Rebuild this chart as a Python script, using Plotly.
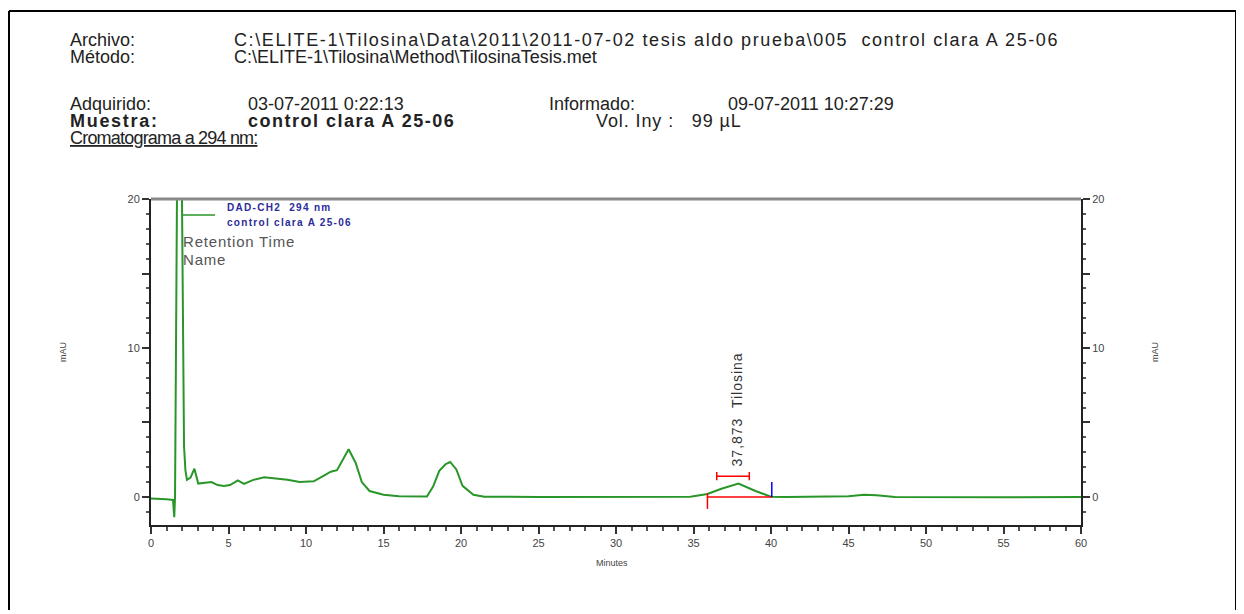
import plotly.graph_objects as go

# ---- data ----
time_min = [0.0, 0.5, 1.0, 1.42, 1.50, 1.55, 1.68, 1.80, 1.92, 2.00, 2.13, 2.22, 2.32,
            2.55, 2.80, 3.05, 3.40, 3.90, 4.30, 4.70, 5.10, 5.60, 6.00, 6.60, 7.30,
            8.00, 8.80, 9.60, 10.50, 11.10, 11.60, 12.00, 12.40, 12.75, 13.20, 13.60,
            14.10, 15.00, 16.00, 17.80, 18.20, 18.60, 19.00, 19.30, 19.70, 20.10,
            20.80, 21.50, 25.0, 30.0, 34.8, 35.9, 36.8, 37.9, 39.0, 40.0, 41.0,
            45.0, 46.0, 46.8, 48.0, 55.0, 60.0]
mau = [-0.1, -0.1, -0.15, -0.2, -1.35, 0.0, 20.0, 40.0, 30.0, 20.0, 3.4, 1.8, 1.15,
       1.3, 1.9, 0.9, 0.95, 1.0, 0.8, 0.74, 0.8, 1.12, 0.88, 1.15, 1.33,
       1.27, 1.15, 1.0, 1.05, 1.4, 1.7, 1.8, 2.6, 3.2, 2.3, 1.0,
       0.4, 0.15, 0.05, 0.03, 0.7, 1.75, 2.2, 2.35, 1.85, 0.75,
       0.15, 0.02, 0.0, 0.0, 0.02, 0.2, 0.55, 0.9, 0.4, 0.02, 0.0,
       0.05, 0.15, 0.12, 0.0, -0.02, 0.0]

peak_name = "Tilosina"
peak_rt = 37.873
peak_start = 35.9
peak_end = 40.05
peak_width_bar = [36.5, 38.6]
peak_bar_level = 1.4
x_ticks = [0, 5, 10, 15, 20, 25, 30, 35, 40, 45, 50, 55, 60]
y_ticks = [0, 5, 10, 15, 20]
y_ticklabels = ["0", "", "10", "", "20"]

# ---- layout helpers (page pixel -> paper); the page body adds an 8px offset ----
OFF = 8
L, R, T, B = 151, 1081, 199, 525
W, H = 1232, 602
def px(x):
    return (x - L) / (R - L)
def py(y):
    return (B - y) / (B - T)

GREEN = "rgb(40,150,40)"
FONT = "Liberation Sans, Arial, sans-serif"
TXT = "#222222"

fig = go.Figure()
fig.add_trace(go.Scatter(x=time_min, y=mau, mode="lines",
                         line=dict(color=GREEN, width=2), showlegend=False,
                         hoverinfo="x+y"))
fig.add_trace(go.Scatter(x=[0], y=[0], yaxis="y2", mode="markers",
                         marker=dict(opacity=0), showlegend=False, hoverinfo="skip"))

axis_common = dict(showgrid=False, zeroline=False, showline=True, linecolor="#222",
                   linewidth=2, ticks="outside", ticklen=7, tickwidth=1.5,
                   tickcolor="#333", tickfont=dict(family=FONT, size=11, color="#444"))

fig.update_layout(
    width=W, height=H,
    margin=dict(l=L - OFF, r=(W + OFF) - R, t=T - OFF, b=(H + OFF) - B, pad=0),
    paper_bgcolor="white", plot_bgcolor="white",
    xaxis=dict(range=[0, 60], tickvals=x_ticks,
               minor=dict(dtick=1, ticks="outside", ticklen=4, tickcolor="#555"),
               **axis_common),
    yaxis=dict(range=[-1.88, 20], tickvals=y_ticks, ticktext=y_ticklabels,
               minor=dict(dtick=1, ticks="outside", ticklen=3, tickcolor="#555"),
               **axis_common),
    yaxis2=dict(range=[-1.88, 20], tickvals=y_ticks, ticktext=y_ticklabels,
                overlaying="y", side="right",
                minor=dict(dtick=1, ticks="outside", ticklen=3, tickcolor="#555"),
                **axis_common),
)

shapes = []
for (x0, y0, x1, y1) in [(9, 11, 1236, 11), (9, 11, 9, 640), (1236, 11, 1236, 640)]:
    shapes.append(dict(type="line", xref="paper", yref="paper",
                       x0=px(x0), y0=py(y0), x1=px(x1), y1=py(y1),
                       line=dict(color="black", width=2)))
shapes.append(dict(type="line", xref="paper", yref="paper", x0=0, x1=1, y0=1, y1=1,
                   line=dict(color="#8a8a8a", width=3)))
shapes.append(dict(type="line", xref="paper", yref="paper",
                   x0=px(182), x1=px(215), y0=py(215), y1=py(215),
                   line=dict(color=GREEN, width=1.5)))
shapes.append(dict(type="line", xref="x", yref="y", x0=peak_start, x1=peak_end, y0=0, y1=0,
                   line=dict(color="red", width=1.5)))
shapes.append(dict(type="line", xref="x", yref="y", x0=peak_start, x1=peak_start, y0=-0.8, y1=0.25,
                   line=dict(color="red", width=1.5)))
shapes.append(dict(type="line", xref="x", yref="y", x0=peak_end, x1=peak_end, y0=0, y1=1.0,
                   line=dict(color="blue", width=1.5)))
shapes.append(dict(type="line", xref="x", yref="y", x0=peak_width_bar[0], x1=peak_width_bar[1],
                   y0=peak_bar_level, y1=peak_bar_level, line=dict(color="red", width=1.5)))
for xb in peak_width_bar:
    shapes.append(dict(type="line", xref="x", yref="y", x0=xb, x1=xb,
                       y0=peak_bar_level - 0.28, y1=peak_bar_level + 0.28,
                       line=dict(color="red", width=1.5)))
fig.update_layout(shapes=shapes)

ann = []
def text(x, y, s, size=18, color=TXT, anchor="left", angle=0, yanchor="middle", family=FONT):
    ann.append(dict(x=px(x), y=py(y), xref="paper", yref="paper", text=s,
                    showarrow=False, xanchor=anchor, yanchor=yanchor, textangle=angle,
                    font=dict(family=family, size=size, color=color)))

def spaced(s, ls):
    return f'<span style="letter-spacing:{ls}px">{s}</span>'

text(68, 40, "Archivo:")
text(68, 57, "Método:")
text(232, 40, spaced(r"C:\ELITE-1\Tilosina\Data\2011\2011-07-02 tesis aldo prueba\005  control clara A 25-06", 1.6))
text(232, 57, r"C:\ELITE-1\Tilosina\Method\TilosinaTesis.met")
text(68, 104, "Adquirido:")
text(246, 104, "03-07-2011 0:22:13")
text(547, 104, "Informado:")
text(726, 104, "09-07-2011 10:27:29")
text(68, 121, "<b>" + spaced("Muestra:", 1.7) + "</b>")
text(246, 121, "<b>" + spaced("control clara A 25-06", 1.5) + "</b>")
text(594, 121, spaced("Vol. Iny :   99 µL", 0.9))
text(68, 138, "<u>" + spaced("Cromatograma a 294 nm:", -0.8) + "</u>")

text(225, 208, "<b>" + spaced("DAD-CH2  294 nm", 1.3) + "</b>", size=10, color="#2b2b9a")
text(225, 222, "<b>" + spaced("control clara A 25-06", 1.3) + "</b>", size=10, color="#2b2b9a")
text(181, 241, spaced("Retention Time", 0.8), size=15, color="#555555")
text(181, 259, spaced("Name", 0.8), size=15, color="#555555")

text(612, 563, "Minutes", size=9, color="#444", anchor="center")
text(63, 352, "mAU", size=9, color="#444", anchor="center", angle=-90)
text(1155, 352, "mAU", size=9, color="#444", anchor="center", angle=-90)

ann.append(dict(x=peak_rt - 0.1, y=1.95, xref="x", yref="y",
                text=spaced(f"{peak_rt:.3f}".replace(".", ",") + "  " + peak_name, 1.0),
                showarrow=False, textangle=-90, xanchor="center", yanchor="bottom",
                font=dict(family=FONT, size=14, color="#333")))
fig.update_layout(annotations=ann)

fig.write_html("out.html")
